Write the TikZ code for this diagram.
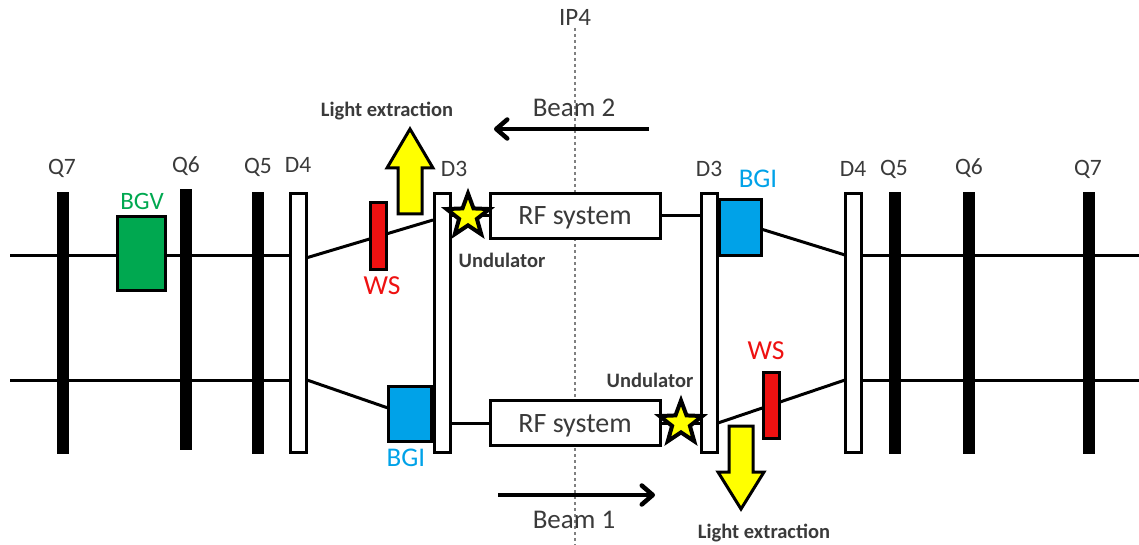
\documentclass[tikz,border=0pt]{standalone}
\usepackage{fontspec}
\setmainfont{Carlito}
\usetikzlibrary{shapes.geometric,arrows.meta,backgrounds}
\definecolor{txt}{HTML}{3A3A3A}
\definecolor{cblue}{HTML}{00A2E8}
\definecolor{cgreen}{HTML}{00A850}
\definecolor{cred}{HTML}{EE1111}
\definecolor{cyel}{HTML}{FFFF00}
\tikzset{
  x=1pt,y=-1pt,
  px/.style={inner sep=0pt,outer sep=0pt},
  quad/.style={px,fill=black,minimum width=12pt,minimum height=#1},
  dipole/.style={px,draw=black,line width=3pt,fill=white,minimum width=16pt,minimum height=258pt},
  dev/.style 2 args={px,draw=black,line width=3pt,fill=#1,minimum width=#2},
  rfbox/.style={px,draw=black,line width=3pt,fill=white,minimum width=170pt,minimum height=45pt,text height=24pt,text depth=6pt,font=\fontsize{28}{28}\selectfont,text=txt},
  undu/.style={px,star,star points=5,star point ratio=2.4,draw=black,line width=4pt,miter limit=10,fill=cyel,minimum size=45pt},
  lab/.style={px,font=\fontsize{23.5}{24}\selectfont,text=txt},
  smalllab/.style={px,font=\bfseries\fontsize{20.5}{21}\selectfont,text=txt},
  beamline/.style={line width=3pt,draw=black},
  bigarrow/.style={draw=black,line width=3pt,fill=cyel,line join=miter},
  beamarrow/.style={line width=4pt,-{Straight Barb[length=11pt,width=19pt,line width=4.5pt,round]}},
}
\begin{document}
\begin{tikzpicture}
\useasboundingbox (0,0) rectangle (1139,545);
% quadrupoles
\node[quad=262pt] (q7l) at (63,323) {};
\node[quad=261pt] (q6l) at (186,319.5) {};
\node[quad=262pt] (q5l) at (258,323) {};
\node[quad=262pt] (q5r) at (895,323) {};
\node[quad=262pt] (q6r) at (969,323) {};
\node[quad=262pt] (q7r) at (1089,323) {};
% dipoles
\node[dipole] (d4l) at (298,323) {};
\node[dipole] (d3l) at (442,323) {};
\node[dipole] (d3r) at (709,323) {};
\node[dipole] (d4r) at (853.5,323) {};
% devices
\node[dev={cgreen}{48pt},minimum height=73pt] (bgv) at (141.5,253.5) {};
\node[dev={cred}{16pt},minimum height=66pt] (wsl) at (378,236) {};
\node[dev={cred}{16pt},minimum height=66pt] (wsr) at (771.5,405.5) {};
\node[dev={cblue}{42pt},minimum height=55pt] (bgir) at (740,227.5) {};
\node[dev={cblue}{43pt},minimum height=55pt] (bgil) at (410,413.5) {};
\node[rfbox] (rft) at (575,216) {RF system};
\node[rfbox] (rfb) at (575,423) {RF system};
% free ends and beam levels
\coordinate (tl) at (10,255);
\coordinate (tr) at (1139,255);
\coordinate (bl) at (10,380);
\coordinate (br) at (1139,380);
\coordinate (a1) at (307,258);
\coordinate (a2) at (433,220);
\coordinate (a3) at (761,229);
\coordinate (a4) at (845,255);
\coordinate (a5) at (307,380);
\coordinate (a6) at (388,408);
\coordinate (a7) at (718,423);
\coordinate (a8) at (845,380);
\coordinate (ip1) at (575,28);
\coordinate (ip2) at (575,545);
\coordinate (b2s) at (649,129);
\coordinate (b2e) at (494,129);
\coordinate (b1s) at (498,495);
\coordinate (b1e) at (655,495);
% connectors behind everything
\begin{scope}[on background layer]
\draw[gray,line width=1.2pt,dash pattern=on 3pt off 3pt] (ip1) -- (ip2);
\draw[beamline] (tl) -- (d4l.west |- tl);
\draw[beamline] (d4r.east |- tr) -- (tr);
\draw[beamline] (bl) -- (d4l.west |- bl);
\draw[beamline] (d4r.east |- br) -- (br);
\draw[beamline] (d4l.east |- a1) -- (a2);
\draw[beamline] (a3) -- (a4);
\draw[beamline] (a5) -- (a6);
\draw[beamline] (a7) -- (a8);
\draw[beamline] (d3l.east |- rft) -- (rft.west);
\draw[beamline] (rft.east) -- (d3r.west |- rft);
\draw[beamline] (bgil.east |- rfb) -- (rfb.west);
\draw[beamline] (rfb.east) -- (d3r.west |- rfb);
\end{scope}
% undulators
\node[undu] (ust) at (468,216) {};
\node[undu] (usb) at (681,423) {};
% light extraction arrows
\draw[bigarrow] (398,214) -- (398,168) -- (387,168) -- (410,129) -- (433,168) -- (422,168) -- (422,214) -- cycle;
\draw[bigarrow] (729,426) -- (729,472) -- (718,472) -- (741,509) -- (764,472) -- (753,472) -- (753,426) -- cycle;
% beam arrows
\draw[beamarrow] (b2s) -- (b2e);
\draw[beamarrow] (b1s) -- (b1e);
% labels
\node[lab] (lq7l) at (62,168) {Q7};
\node[lab] (lq6l) at (186,166) {Q6};
\node[lab] (lq5l) at (258,167) {Q5};
\node[lab] (ld4l) at (298,165) {D4};
\node[lab] (ld3l) at (454,169) {D3};
\node[lab] (ld3r) at (709,169) {D3};
\node[lab] (ld4r) at (853,169) {D4};
\node[lab] (lq5r) at (894,169) {Q5};
\node[lab] (lq6r) at (969,168) {Q6};
\node[lab] (lq7r) at (1088,169) {Q7};
\node[lab,font=\fontsize{25}{25}\selectfont] (lip) at (575,17) {IP4};
\node[lab,text=cgreen,font=\fontsize{25}{25}\selectfont] (lbgv) at (142,201) {BGV};
\node[lab,text=cred,font=\fontsize{27.5}{28}\selectfont] (lwsl) at (382,286) {WS};
\node[lab,text=cred,font=\fontsize{27.5}{28}\selectfont] (lwsr) at (766,351) {WS};
\node[lab,text=cblue,font=\fontsize{27}{27}\selectfont] (lbgir) at (758,179) {BGI};
\node[lab,text=cblue,font=\fontsize{27}{27}\selectfont] (lbgil) at (406,458) {BGI};
\node[lab,font=\fontsize{27}{27}\selectfont] (lb2) at (574,108) {Beam 2};
\node[lab,font=\fontsize{27}{27}\selectfont] (lb1) at (574,520) {Beam 1};
\node[smalllab] (lle1) at (387,111) {Light extraction};
\node[smalllab] (lle2) at (764,533) {Light extraction};
\node[smalllab] (lu1) at (502,260) {Undulator};
\node[smalllab] (lu2) at (650,380) {Undulator};
\end{tikzpicture}
\end{document}
